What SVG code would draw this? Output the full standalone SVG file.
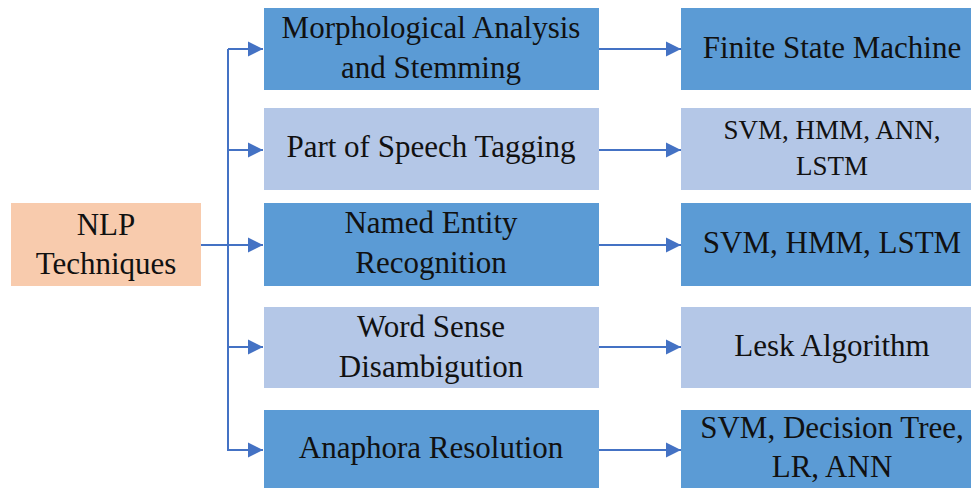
<svg xmlns="http://www.w3.org/2000/svg" width="971" height="488" viewBox="0 0 971 488">
<defs>
<marker id="ah" markerUnits="userSpaceOnUse" markerWidth="16" markerHeight="16" viewBox="0 0 16 16" refX="15" refY="8" orient="auto">
<path d="M0,0.5 L15,8 L0,15.5 Z" fill="#4472C4"/>
</marker>
<style>
.dark{fill:#5B9BD5}
.light{fill:#B4C7E7}
.peach{fill:#F8CBAD}
.t{fill:#111;text-anchor:middle;font-family:'Liberation Serif',serif;font-size:31px}
.sm{font-size:27px}
.ln{stroke:#4472C4;stroke-width:2;fill:none}
</style>
</defs>
<rect width="971" height="488" fill="#fff"/>
<g id="connectors">
<path class="ln" d="M201,245 H263" marker-end="url(#ah)"/>
<path class="ln" d="M228,450 V49"/>
<path class="ln" d="M228,49 H263" marker-end="url(#ah)"/>
<path class="ln" d="M228,150 H263" marker-end="url(#ah)"/>
<path class="ln" d="M228,347 H263" marker-end="url(#ah)"/>
<path class="ln" d="M227,450 H263" marker-end="url(#ah)"/>
<path class="ln" d="M599,49 H681" marker-end="url(#ah)"/>
<path class="ln" d="M599,150 H681" marker-end="url(#ah)"/>
<path class="ln" d="M599,245 H681" marker-end="url(#ah)"/>
<path class="ln" d="M599,347 H681" marker-end="url(#ah)"/>
<path class="ln" d="M599,450 H681" marker-end="url(#ah)"/>
</g>
<g id="nlp">
<rect class="peach" x="11" y="203" width="190" height="83"/>
<text class="t" x="106" y="235">NLP</text>
<text class="t" x="106" y="274">Techniques</text>
</g>
<g id="morph">
<rect class="dark" x="264" y="8" width="335" height="82"/>
<text class="t" x="431" y="38">Morphological Analysis</text>
<text class="t" x="431" y="78">and Stemming</text>
</g>
<g id="pos">
<rect class="light" x="264" y="108" width="335" height="82"/>
<text class="t" x="431" y="157">Part of Speech Tagging</text>
</g>
<g id="ner">
<rect class="dark" x="264" y="203" width="335" height="83"/>
<text class="t" x="431" y="233">Named Entity</text>
<text class="t" x="431" y="273">Recognition</text>
</g>
<g id="wsd">
<rect class="light" x="264" y="307" width="335" height="81"/>
<text class="t" x="431" y="337">Word Sense</text>
<text class="t" x="431" y="377">Disambigution</text>
</g>
<g id="anaphora">
<rect class="dark" x="264" y="410" width="335" height="82"/>
<text class="t" x="431" y="458">Anaphora Resolution</text>
</g>
<g id="fsm">
<rect class="dark" x="681" y="8" width="302" height="82"/>
<text class="t" x="832" y="58">Finite State Machine</text>
</g>
<g id="pos-methods">
<rect class="light" x="681" y="108" width="302" height="82"/>
<text class="t sm" x="832" y="139">SVM, HMM, ANN,</text>
<text class="t sm" x="832" y="175">LSTM</text>
</g>
<g id="ner-methods">
<rect class="dark" x="681" y="203" width="302" height="83"/>
<text class="t" x="832" y="253">SVM, HMM, LSTM</text>
</g>
<g id="wsd-methods">
<rect class="light" x="681" y="307" width="302" height="81"/>
<text class="t" x="832" y="356">Lesk Algorithm</text>
</g>
<g id="anaphora-methods">
<rect class="dark" x="681" y="410" width="302" height="82"/>
<text class="t" x="832" y="438">SVM, Decision Tree,</text>
<text class="t" x="832" y="477">LR, ANN</text>
</g>
</svg>
